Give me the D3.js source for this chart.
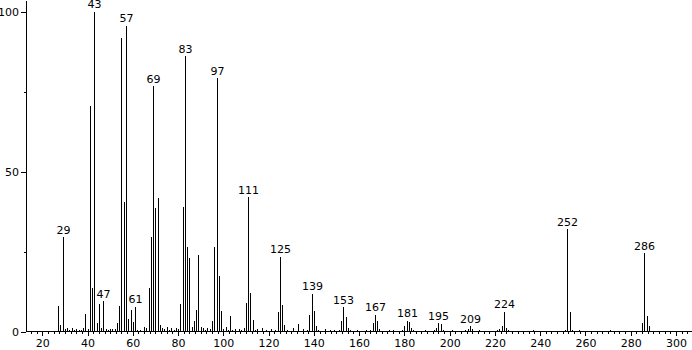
<!DOCTYPE html>
<html>
<head>
<meta charset="utf-8">
<script src="https://cdn.jsdelivr.net/npm/d3@7"></script>
<style>
  body { margin: 0; background: #fff; }
</style>
</head>
<body>
<div id="chart"></div>
<script>
// m/z values and relative abundance
let mz = [27, 28, 29, 30, 31, 32, 33, 34, 35, 36, 37, 38, 39, 40, 41, 42, 43, 44, 45, 46, 47, 48, 49, 50,
          51, 52, 53, 54, 55, 56, 57, 58, 59, 60, 61, 62, 63, 65, 66, 67, 68, 69, 70, 71, 72, 73, 74, 75,
          76, 77, 78, 79, 80, 81, 82, 83, 84, 85, 86, 87, 88, 89, 90, 91, 92, 93, 94, 95, 96, 97, 98, 99,
          100, 101, 102, 103, 104, 105, 107, 108, 109, 110, 111, 112, 113, 114, 115, 117, 119, 121, 123,
          124, 125, 126, 127, 128, 131, 133, 135, 137, 138, 139, 140, 141, 142, 145, 147, 149, 151, 152,
          153, 154, 155, 156, 159, 163, 165, 166, 167, 168, 169, 173, 175, 179, 180, 181, 182, 183, 184,
          189, 193, 194, 195, 196, 197, 201, 207, 208, 209, 210, 213, 221, 222, 223, 224, 225, 226, 237,
          251, 252, 253, 254, 257, 271, 285, 286, 287, 288];
let abundance = [8.1, 2, 29.5, 0.7, 1, 0.6, 1, 0.5, 0.9, 0.4, 0.6, 1, 5.4, 0.8, 70.4, 13.5, 100, 2.8, 8.5, 1.2, 9.5, 0.8, 0.6, 0.7,
                 0.8, 0.7, 2.8, 7.9, 91.6, 40.5, 95.5, 4, 6.6, 2.9, 7.8, 0.6, 0.5, 1.4, 1, 13.5, 29.5, 76.7, 38.6, 41.8, 1.9, 1, 0.7, 1.5,
                 0.6, 1.2, 0.5, 1, 0.8, 8.5, 38.9, 86, 26.3, 23, 1.4, 3.4, 6.6, 24, 1.4, 1, 0.5, 1, 0.8, 3.3, 26.5, 79.2, 17.5, 6.3,
                 0.8, 1.5, 0.6, 4.8, 0.6, 0.8, 0.7, 0.5, 1, 8.9, 41.9, 12, 3.6, 0.6, 0.8, 1.2, 0.6, 0.7, 0.6,
                 6.2, 23.4, 8.4, 2, 0.6, 1, 2.4, 0.8, 0.6, 5.3, 11.8, 6.3, 1.6, 0.5, 0.7, 0.5, 0.6, 0.5, 3.4,
                 7.6, 4.5, 1, 0.5, 0.5, 0.5, 0.6, 2.6, 5.3, 3.4, 0.7, 0.4, 0.5, 0.5, 1.6, 3.4, 2.9, 1, 0.4,
                 0.4, 0.5, 1, 2.6, 2.4, 0.6, 0.4, 0.5, 0.7, 1.6, 0.8, 0.4, 0.4, 0.7, 1.6, 6.2, 1, 0.5, 0.4,
                 0.4, 31.9, 6.2, 0.6, 0.5, 0.4, 2.6, 24.5, 5, 1.6];
let labelled = [29, 43, 47, 57, 61, 69, 83, 97, 111, 125, 139, 153, 167, 181, 195, 209, 224, 252, 286];
let xTicks = d3.range(20, 301, 20);
let yTicks = [0, 50, 100];
let yMinorTicks = [25, 75];

let width = 692,
    height = 350;

let font = "DejaVu Sans";

let svg = d3.select("#chart")
    .append("svg")
    .attr("width", width)
    .attr("height", height);

let x = d3.scaleLinear()
    .domain([12.8, 307.1])
    .range([26, 692]);

let y = d3.scaleLinear()
    .domain([0, 103.6])
    .range([331.5, 0]);

let peaks = mz.map(function(m, i) { return {mz: m, v: abundance[i]}; });

// minor x ticks every 2.5
let xMinor = d3.range(15, 306, 2.5).filter(function(d) { return d % 20 !== 0; });

svg.append("g")
    .attr("transform", "translate(0,331)")
    .call(d3.axisBottom(x).tickValues(xMinor).tickSize(3).tickSizeOuter(0).tickFormat(""))
    .call(function(g) { g.select(".domain").remove(); });

let xAxis = svg.append("g")
    .attr("transform", "translate(0,331)")
    .call(d3.axisBottom(x).tickValues(xTicks).tickSize(5).tickSizeOuter(0).tickPadding(3).tickFormat(d3.format("d")));

svg.append("g")
    .attr("transform", "translate(26,0)")
    .call(d3.axisLeft(y).tickValues(yMinorTicks).tickSize(2).tickSizeOuter(0).tickFormat(""))
    .call(function(g) { g.select(".domain").remove(); });

let yAxis = svg.append("g")
    .attr("transform", "translate(26,0)")
    .call(d3.axisLeft(y).tickValues(yTicks).tickSize(5).tickSizeOuter(0).tickPadding(2).tickFormat(d3.format("d")));

svg.selectAll("g text")
    .attr("font-family", font)
    .attr("font-size", 11)
    .attr("fill", "#000");

svg.selectAll("g line, g path")
    .attr("stroke", "#000")
    .attr("shape-rendering", "crispEdges");

// spectrum sticks
svg.append("g")
    .selectAll("line")
    .data(peaks)
    .enter()
    .append("line")
    .attr("x1", function(d) { return Math.round(x(d.mz)) + 0.5; })
    .attr("x2", function(d) { return Math.round(x(d.mz)) + 0.5; })
    .attr("y1", y(0))
    .attr("y2", function(d) { return Math.round(y(d.v)); })
    .attr("stroke", "#000")
    .attr("stroke-width", 1)
    .attr("shape-rendering", "crispEdges");

// peak labels
svg.append("g")
    .selectAll("text")
    .data(peaks.filter(function(d) { return labelled.indexOf(d.mz) >= 0; }))
    .enter()
    .append("text")
    .attr("x", function(d) { return Math.round(x(d.mz)) + 0.5; })
    .attr("y", function(d) { return y(d.v) - 3.5; })
    .attr("text-anchor", "middle")
    .attr("font-family", font)
    .attr("font-size", 11)
    .attr("fill", "#000")
    .text(function(d) { return d.mz; });
</script>
</body>
</html>
